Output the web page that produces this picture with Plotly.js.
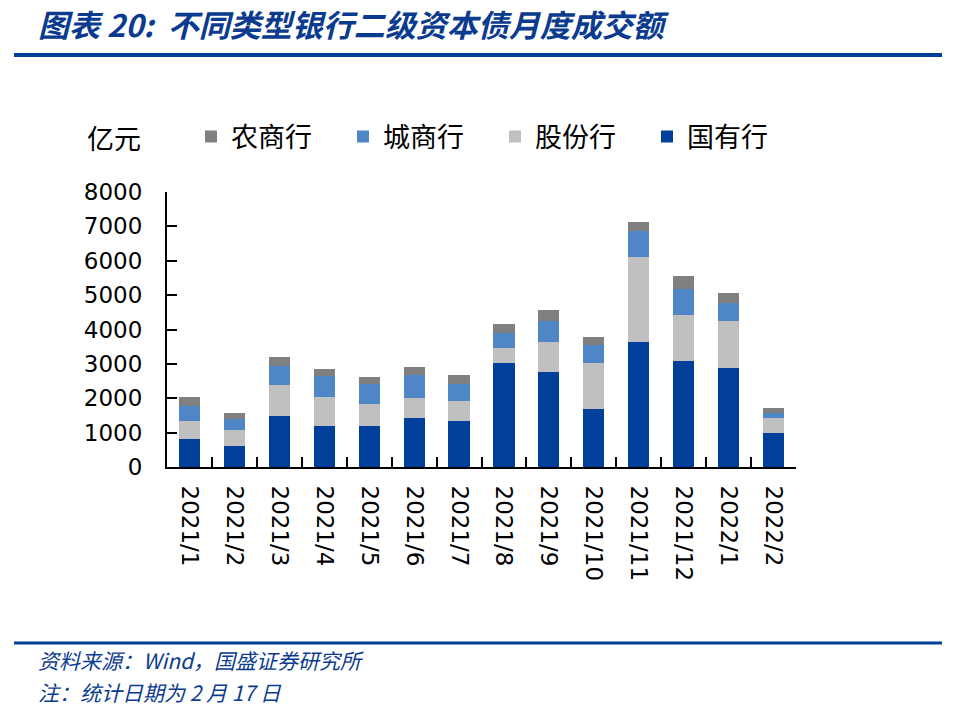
<!DOCTYPE html>
<html>
<head>
<meta charset="utf-8">
<script src="https://cdn.plot.ly/plotly-3.0.1.min.js"></script>
<style>html,body{margin:0;padding:0;background:#fff;}#chart{width:955px;height:710px;}</style>
</head>
<body>
<div id="chart"></div>
<script>
// ---- data (亿元) ----
const months = ["2021/1","2021/2","2021/3","2021/4","2021/5","2021/6","2021/7","2021/8","2021/9","2021/10","2021/11","2021/12","2022/1","2022/2"];
const stateOwned = [815, 621, 1485, 1190, 1204, 1427, 1340, 3029, 2767, 1689, 3641, 3087, 2883, 981];   // 国有行
const jointStock = [525, 457, 903, 849, 631, 583, 582, 437, 874, 1350, 2456, 1321, 1350, 456];         // 股份行
const cityComm   = [446, 320, 563, 611, 592, 670, 505, 437, 611, 514, 757, 776, 544, 146];             // 城商行
const ruralComm  = [253, 175, 253, 204, 194, 233, 253, 262, 321, 233, 282, 379, 291, 135];             // 农商行
const seriesNames = ["国有行","股份行","城商行","农商行"];
const yTicks = [0,1000,2000,3000,4000,5000,6000,7000,8000];

// ---- layout geometry ----
const W = 955, H = 710;
const L = 167, R = 796, T = 192, B = 467;
const px = x => (x - L) / (R - L);
const py = y => (B - y) / (B - T);

const cjk = '"Noto Sans CJK SC", "Noto Sans", sans-serif';
const num = '"DejaVu Sans", Verdana, sans-serif';
const blueText = '#0b3b8f';

const colors = ['#00409A', '#C0C0C0', '#4F86C6', '#808080'];
const vals = [stateOwned, jointStock, cityComm, ruralComm];

const traces = vals.map((v, i) => ({
  type: 'bar',
  name: seriesNames[i],
  x: months,
  y: v,
  marker: {color: colors[i], line: {width: 0}},
  hoverinfo: 'x+y+name'
}));

const layout = {
  width: W, height: H,
  margin: {l: L, r: W - R, t: T, b: H - B, pad: 0},
  paper_bgcolor: '#fff',
  plot_bgcolor: '#fff',
  barmode: 'stack',
  bargap: 0.53,
  showlegend: true,
  legend: {
    orientation: 'h',
    traceorder: 'reversed',
    xref: 'container', yref: 'container',
    x: 191 / W, xanchor: 'left',
    y: 1 - 137 / H, yanchor: 'middle',
    font: {family: cjk, size: 27, color: '#000'},
    entrywidth: 107, entrywidthmode: 'pixels',
    itemwidth: 30,
    bgcolor: 'rgba(0,0,0,0)'
  },
  xaxis: {
    type: 'category',
    showline: true, linecolor: '#000', linewidth: 2,
    ticks: 'inside', ticklen: 10, tickwidth: 2, tickcolor: '#000',
    tickson: 'boundaries',
    tickangle: 90,
    tickfont: {family: num, size: 23, color: '#000'},
    ticklabelstandoff: 12,
    showgrid: false, zeroline: false,
    fixedrange: true
  },
  yaxis: {
    range: [0, 8000],
    tickvals: yTicks,
    ticktext: yTicks.map(String),
    showline: true, linecolor: '#000', linewidth: 2,
    ticks: 'inside', ticklen: 10, tickwidth: 2, tickcolor: '#000',
    tickfont: {family: num, size: 23, color: '#000'},
    ticklabelstandoff: 18,
    showgrid: false, zeroline: false,
    fixedrange: true
  },
  shapes: [
    {type: 'line', xref: 'paper', yref: 'paper', x0: px(14), x1: px(942), y0: py(55), y1: py(55), line: {color: '#00409A', width: 4}},
    {type: 'line', xref: 'paper', yref: 'paper', x0: px(14), x1: px(942), y0: py(643), y1: py(643), line: {color: '#00409A', width: 3}}
  ],
  annotations: [
    {xref: 'paper', yref: 'paper', x: px(36), y: py(23), xanchor: 'left', yanchor: 'middle', showarrow: false,
     text: '<b><i>图表 20:  不同类型银行二级资本债月度成交额</i></b>', font: {family: cjk, size: 31, color: blueText}},
    {xref: 'paper', yref: 'paper', x: px(85), y: py(137), xanchor: 'left', yanchor: 'middle', showarrow: false,
     text: '亿元', font: {family: cjk, size: 27, color: '#000'}},
    {xref: 'paper', yref: 'paper', x: px(36), y: py(660), xanchor: 'left', yanchor: 'middle', showarrow: false,
     text: '<i>资料来源：Wind，国盛证券研究所</i>', font: {family: cjk, size: 21, color: blueText}},
    {xref: 'paper', yref: 'paper', x: px(36), y: py(692), xanchor: 'left', yanchor: 'middle', showarrow: false,
     text: '<i>注：统计日期为 2 月 17 日</i>', font: {family: cjk, size: 21, color: blueText}}
  ]
};

Plotly.newPlot('chart', traces, layout, {displayModeBar: false, staticPlot: true});
</script>
</body>
</html>
